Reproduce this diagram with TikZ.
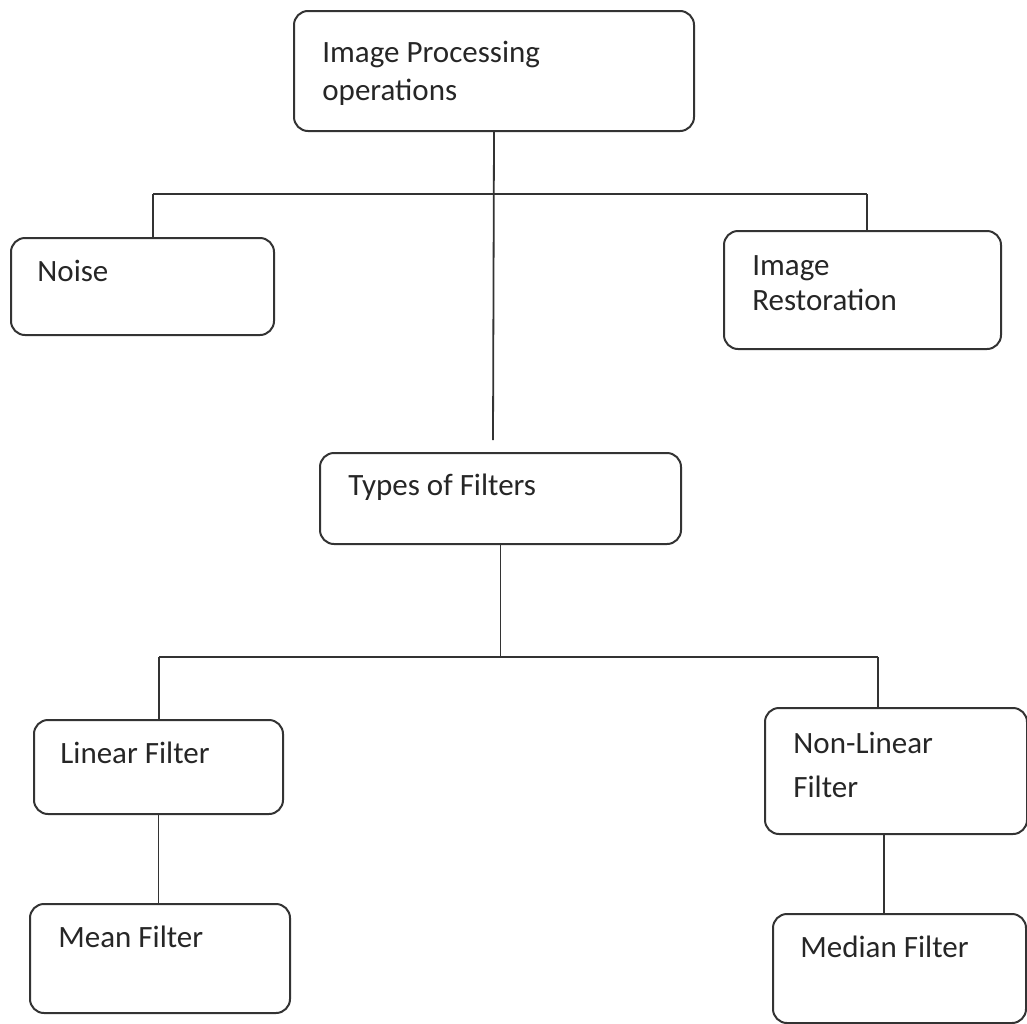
\documentclass[tikz,border=0pt]{standalone}
\usepackage{fontspec}
\setmainfont{Carlito}
\usetikzlibrary{calc}

\tikzset{
  box/.style={draw=black!80, line width=1pt, rounded corners=7pt, inner sep=0pt, anchor=north west},
  txt/.style={anchor=base west, inner sep=0pt, text=black!85, font=\fontsize{15.5}{18}\selectfont},
  conn/.style={draw=black!80, line width=0.9pt},
}

\begin{document}
\begin{tikzpicture}[x=0.5pt, y=-0.5pt]
    \useasboundingbox (0,0) rectangle (1027,1023);
    % Kaesten:
    \node[box, minimum width=200pt, minimum height=60pt] (ipo) at (293,10) {}; % oben
    \node[box, minimum width=131.5pt, minimum height=48.5pt] (noise) at (10,237) {}; % links
    \node[box, minimum width=138.5pt, minimum height=59pt] (restor) at (723,230) {}; % rechts
    \node[box, minimum width=180.5pt, minimum height=45.5pt] (types) at (319,452) {}; % mitte
    \node[box, minimum width=124.5pt, minimum height=47pt] (linear) at (33,719) {};
    \node[box, minimum width=131pt, minimum height=63pt] (nonlin) at (764,707) {};
    \node[box, minimum width=130pt, minimum height=54.5pt] (mean) at (29,903) {};
    \node[box, minimum width=126.5pt, minimum height=54.5pt] (median) at (772,913) {};
    % Texte:
    \node[txt] (ipoA) at (322,62) {Image Processing};
    \node[txt] (ipoB) at (322,100) {operations};
    \node[txt] (noiseT) at (37,281) {Noise};
    \node[txt] (restorA) at (752,275) {Image};
    \node[txt] (restorB) at (752,310) {Restoration};
    \node[txt] (typesT) at (348,495) {Types of Filters};
    \node[txt] (linearT) at (60,763) {Linear Filter};
    \node[txt] (nonlinA) at (793,753) {Non-Linear};
    \node[txt] (nonlinB) at (793,797) {Filter};
    \node[txt] (meanT) at (58,947) {Mean Filter};
    \node[txt] (medianT) at (800,957) {Median Filter};
    % obere Verbindungen:
    \coordinate (topend) at (493,440);
    \coordinate (hlA) at (153,194);
    \coordinate (hlB) at (867,194);
    \draw[conn] (ipo.south) -- (topend); % senkrecht
    \draw[conn] (hlA) -- (hlB); % waagerecht
    \draw[conn] (hlA) -- (hlA |- noise.north);
    \draw[conn] (hlB) -- (hlB |- restor.north);
    % untere Verbindungen:
    \coordinate (hlC) at (159,657);
    \coordinate (hlD) at (878,657);
    \coordinate (nlb) at ($(nonlin.south)+(-12,0)$);
    \draw[conn] (types.south) -- (types.south |- hlC);
    \draw[conn] (hlC) -- (hlD);
    \draw[conn] (hlC) -- (hlC |- linear.north);
    \draw[conn] (hlD) -- (hlD |- nonlin.north);
    \draw[conn] (linear.south) -- (linear.south |- mean.north);
    \draw[conn] (nlb) -- (nlb |- median.north);
\end{tikzpicture}
\end{document}
